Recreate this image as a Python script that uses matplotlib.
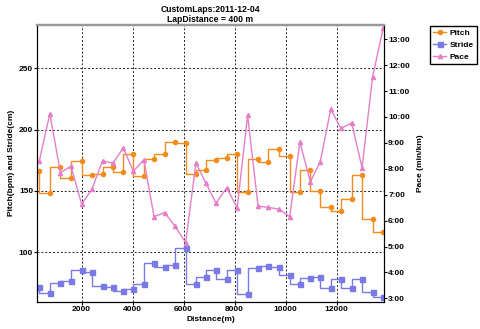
import matplotlib
matplotlib.use("Agg")
import matplotlib.pyplot as plt
from matplotlib.ticker import FuncFormatter, MultipleLocator

plt.rcParams['font.family'] = ['Liberation Sans', 'DejaVu Sans']
plt.rcParams['font.weight'] = 'bold'
plt.rcParams['font.size'] = 6

# lap end distance (m)
dist = [340, 750, 1170, 1580, 2000, 2410, 2820, 3230, 3630, 4030,
        4440, 4840, 5250, 5650, 6080, 6480, 6880, 7270, 7690, 8100,
        8510, 8920, 9320, 9750, 10160, 10560, 10970, 11360, 11770, 12170,
        12590, 13000, 13410, 13830]

# cadence per lap (bpm)
pitch = [166.3, 148.4, 169.6, 160.6, 174.8, 163.1, 164.2, 169.6, 165.5, 179.9,
         162.0, 176.1, 179.9, 189.7, 188.7, 164.2, 166.9, 175.0, 177.1, 180.5,
         149.2, 176.1, 173.4, 184.6, 178.3, 149.2, 166.9, 150.3, 137.0, 133.7,
         143.8, 163.1, 126.9, 116.9]

# stride length per lap (cm)
stride = [71.4, 66.6, 75.2, 76.6, 85.6, 83.7, 72.8, 71.7, 68.7, 70.3,
          73.9, 91.5, 87.8, 89.9, 103.8, 73.9, 79.9, 85.8, 78.0, 85.3,
          66.2, 87.0, 88.8, 87.8, 81.7, 73.9, 78.8, 79.9, 70.6, 78.0,
          70.6, 78.0, 67.4, 63.5]

# pace per lap (min/km, decimal)
pace = [8.31, 10.12, 7.85, 8.10, 6.63, 7.23, 8.31, 8.21, 8.81, 7.90,
        8.35, 6.15, 6.31, 5.80, 5.15, 8.22, 7.44, 6.67, 7.27, 6.49,
        10.06, 6.56, 6.51, 6.44, 6.15, 9.03, 7.50, 8.27, 10.30, 9.56,
        9.77, 8.04, 11.53, 13.44]

c_pitch = '#F28C1C'
c_stride = '#7A7AE6'
c_pace = '#E580C8'

fig = plt.figure(figsize=(4.8, 3.29), dpi=100)
ax = fig.add_axes([0.0777, 0.083, 0.7223, 0.841])

l1, = ax.plot(dist, pitch, drawstyle='steps-pre', color=c_pitch, lw=1.0,
              marker='o', ms=3, label='Pitch')
l2, = ax.plot(dist, stride, drawstyle='steps-pre', color=c_stride, lw=1.0,
              marker='s', ms=3.6, label='Stride')

ax.set_xlim(260, 13860)
ax.set_ylim(59.7, 285.3)
ax.xaxis.set_major_locator(MultipleLocator(2000))
ax.yaxis.set_major_locator(MultipleLocator(50))
ax.grid(True, color='#222222', linestyle=(0, (2, 2)), linewidth=0.7)
ax.set_xlabel('Distance(m)', fontweight='bold', labelpad=2)
ax.set_ylabel('Pitch(bpm) and Stride(cm)', fontweight='bold', labelpad=3)
ax.tick_params(length=2, pad=1)

ax2 = ax.twinx()
l3, = ax2.plot(dist, pace, color=c_pace, lw=1.0, marker='^', ms=3,
               label='Pace')
ax2.set_ylim(2.87, 13.55)
ax2.yaxis.set_major_locator(MultipleLocator(1))
ax2.yaxis.set_major_formatter(FuncFormatter(
    lambda v, p: '%d:%02d' % (int(v), round((v - int(v)) * 60))))
ax2.set_ylabel('Pace (min/km)', fontweight='bold', labelpad=5)
ax2.tick_params(length=2, pad=1)

for a in (ax, ax2):
    a.spines['top'].set_color('#999999')
    a.spines['top'].set_linewidth(1.6)

fig.text(0.4385, 0.985, 'CustomLaps:2011-12-04\nLapDistance = 400 m',
         ha='center', va='top', fontweight='bold', fontsize=6.2,
         linespacing=1.2)

fig.legend(handles=[l1, l2, l3], loc='upper left',
           bbox_to_anchor=(0.895, 0.922), fancybox=False,
           edgecolor='black', framealpha=1, handlelength=1.6,
           borderpad=0.4, labelspacing=0.5, handletextpad=0.4,
           borderaxespad=0)

fig.savefig('out.png', dpi=100)
